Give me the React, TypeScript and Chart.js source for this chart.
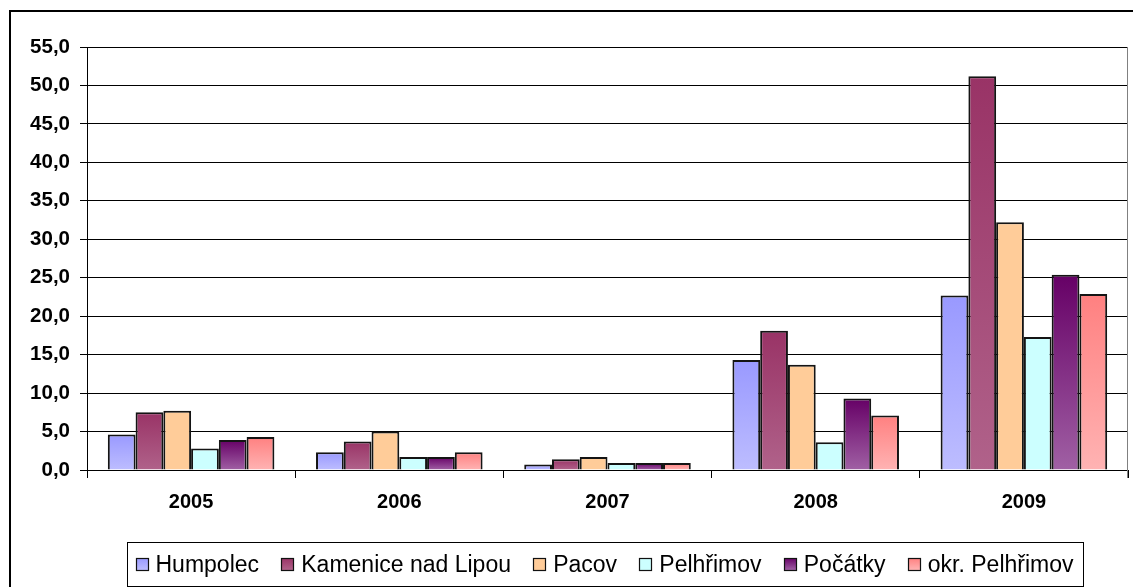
import React, { useEffect, useRef } from "react";
import { Chart, registerables } from "chart.js";

Chart.register(...registerables);

const years = ["2005", "2006", "2007", "2008", "2009"];
const seriesNames = ["Humpolec", "Kamenice nad Lipou", "Pacov", "Pelhřimov", "Počátky", "okr. Pelhřimov"];
const humpolec = [4.6, 2.3, 0.7, 14.3, 22.7];
const kamenice = [7.5, 3.7, 1.4, 18.1, 51.2];
const pacov = [7.7, 5.0, 1.7, 13.7, 32.2];
const pelhrimov = [2.8, 1.7, 0.9, 3.6, 17.3];
const pocatky = [3.9, 1.7, 0.9, 9.3, 25.4];
const okres = [4.3, 2.3, 0.9, 7.1, 22.9];
const seriesValues = [humpolec, kamenice, pacov, pelhrimov, pocatky, okres];
const colorTop = ["#9999ff", "#993366", "#ffcc99", "#ccffff", "#660066", "#ff8080"];
const colorBottom = ["#bdbdff", "#b0628a", "#ffcc99", "#ccffff", "#a060a4", "#ffb3b3"];
const yTicks = [0, 5, 10, 15, 20, 25, 30, 35, 40, 45, 50, 55];

const FONT = "'Liberation Sans', Arial, sans-serif";

const framePlugin = {
  id: "frame",
  beforeDraw(chart: any) {
    const c = chart.ctx;
    c.save();
    c.fillStyle = "#ffffff";
    c.fillRect(0, 0, chart.width, chart.height);
    c.restore();
  },
  afterDraw(chart: any) {
    const c = chart.ctx;
    const area = chart.chartArea;
    c.save();
    // outer border
    c.strokeStyle = "#000";
    c.lineWidth = 2;
    c.strokeRect(10, 11, chart.width + 20, chart.height + 20);
    // right plot border
    c.strokeStyle = "#808080";
    c.lineWidth = 1;
    c.beginPath();
    c.moveTo(Math.round(area.right) - 0.5, area.top);
    c.lineTo(Math.round(area.right) - 0.5, area.bottom + 8);
    c.stroke();

    // legend
    const boxL = 127.5, boxR = 1083.5, boxT = 542.5, boxB = 586.5;
    c.font = `23px ${FONT}`;
    const sw = 12, gapT = 8, marginL = 8, marginR = 10;
    const widths = seriesNames.map((n) => c.measureText(n).width);
    const used = widths.reduce((a, b) => a + b, 0) + seriesNames.length * (sw + gapT);
    const spacing = (boxR - boxL - marginL - marginR - used) / (seriesNames.length - 1);
    c.fillStyle = "#fff";
    c.fillRect(boxL, boxT, boxR - boxL, boxB - boxT);
    c.strokeStyle = "#000";
    c.lineWidth = 1;
    c.strokeRect(boxL, boxT, boxR - boxL, boxB - boxT);
    let x = boxL + marginL;
    const cy = 564;
    seriesNames.forEach((name, i) => {
      const g = c.createLinearGradient(0, cy - sw / 2, 0, cy + sw / 2);
      g.addColorStop(0, colorTop[i]);
      g.addColorStop(1, colorBottom[i]);
      c.fillStyle = g;
      c.fillRect(Math.round(x) + 0.5, cy - sw / 2 + 0.5, sw, sw);
      c.strokeStyle = "#111";
      c.lineWidth = 1.2;
      c.strokeRect(Math.round(x) + 0.5, cy - sw / 2 + 0.5, sw, sw);
      x += sw + gapT;
      c.fillStyle = "#000";
      c.textBaseline = "alphabetic";
      c.textAlign = "left";
      c.fillText(name, x, 572);
      x += widths[i] + spacing;
    });
    c.restore();
  },
};

export default function App() {
  const ref = useRef<HTMLCanvasElement>(null);
  useEffect(() => {
    if (!ref.current) return;
    const datasets = seriesNames.map((name, i) => ({
      label: name,
      data: seriesValues[i],
      backgroundColor: (ctx: any) => {
        const chart = ctx.chart;
        if (ctx.type !== "data" || !chart.chartArea) return colorTop[i];
        const y = chart.scales.y;
        const top = y.getPixelForValue(ctx.raw);
        const bot = y.getPixelForValue(0);
        if (!isFinite(top) || !isFinite(bot) || bot - top < 1) return colorTop[i];
        const g = chart.ctx.createLinearGradient(0, top, 0, bot);
        g.addColorStop(0, colorTop[i]);
        g.addColorStop(1, colorBottom[i]);
        return g;
      },
      borderColor: "#141414",
      borderWidth: 2,
      categoryPercentage: 0.8,
      barPercentage: 1.0,
    }));
    const chart = new Chart(ref.current, {
      type: "bar",
      data: { labels: years, datasets },
      plugins: [framePlugin],
      options: {
        animation: false,
        responsive: false,
        devicePixelRatio: 1,
        layout: { padding: { top: 47, left: 0, right: 5, bottom: 77 } },
        plugins: { legend: { display: false }, tooltip: { enabled: false } },
        scales: {
          x: {
            afterFit: (s: any) => { s.height = 40; },
            grid: {
              offset: true,
              drawOnChartArea: false,
              drawTicks: true,
              tickLength: 8,
              color: "#000",
            },
            border: { display: true, color: "#000" },
            ticks: {
              color: "#000",
              font: { family: FONT, size: 20, weight: "bold" },
              padding: 12,
              maxRotation: 0,
            },
          },
          y: {
            min: 0,
            max: 55,
            afterFit: (s: any) => { s.width = 87; },
            afterBuildTicks: (s: any) => { s.ticks = yTicks.map((v) => ({ value: v })); },
            grid: { color: "#000", tickLength: 7, drawTicks: true },
            border: { display: true, color: "#000" },
            ticks: {
              color: "#000",
              padding: 10,
              font: { family: FONT, size: 20.5, weight: "bold" },
              callback: (v: any) => Number(v).toFixed(1).replace(".", ","),
            },
          },
        },
      },
    });
    return () => chart.destroy();
  }, []);
  return (
    <div style={{ position: "fixed", left: 0, top: 0, width: 1133, height: 587, overflow: "hidden", background: "#fff" }}>
      <canvas ref={ref} width={1133} height={587} style={{ display: "block", width: 1133, height: 587 }} />
    </div>
  );
}
